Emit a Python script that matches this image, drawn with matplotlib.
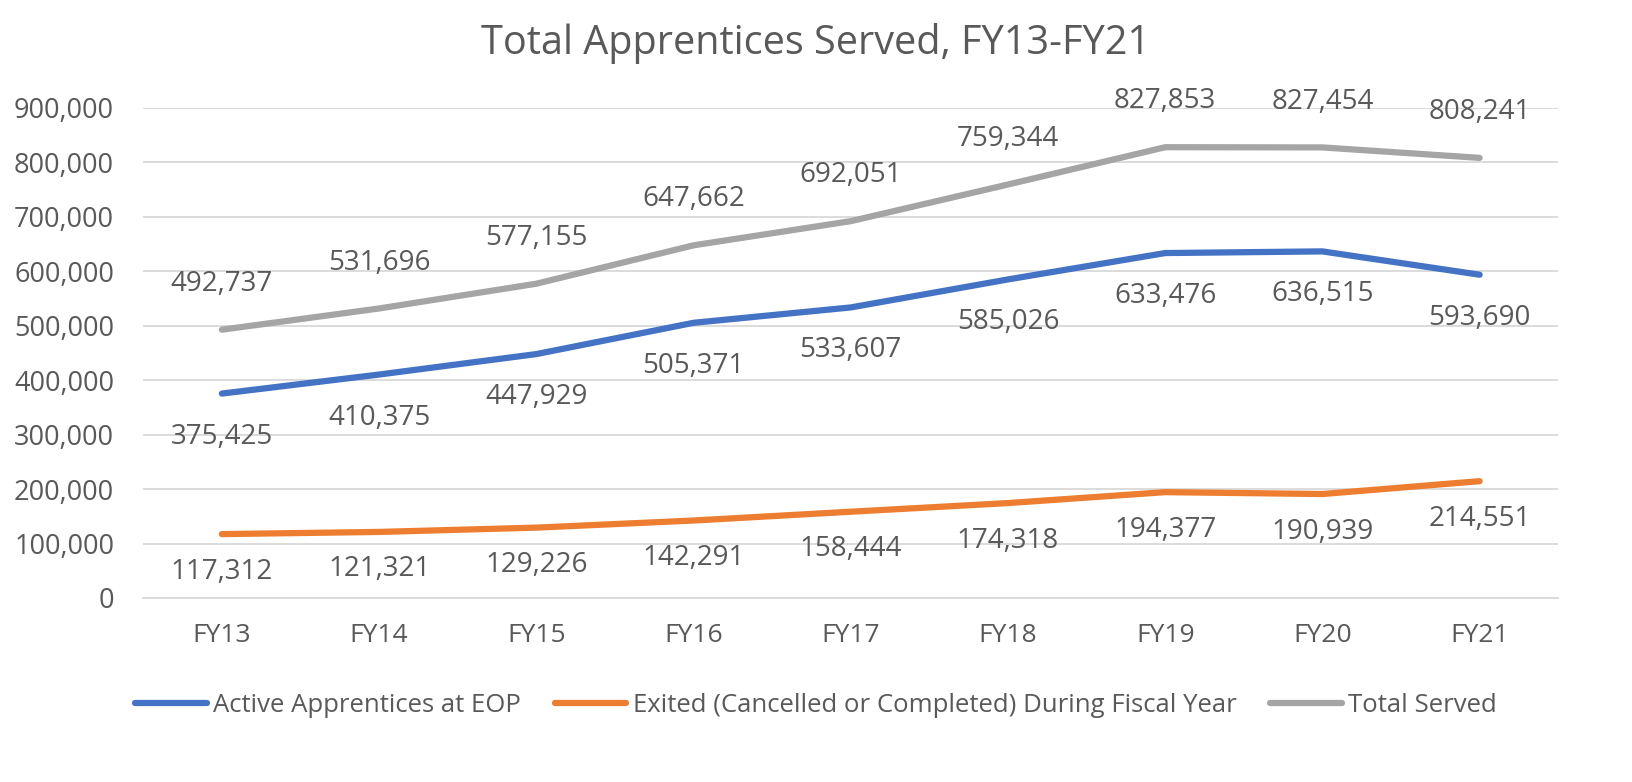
import matplotlib
matplotlib.use("Agg")
import matplotlib.pyplot as plt
from matplotlib.ticker import FuncFormatter

categories = ["FY13", "FY14", "FY15", "FY16", "FY17", "FY18", "FY19", "FY20", "FY21"]
active = [375425, 410375, 447929, 505371, 533607, 585026, 633476, 636515, 593690]
exited = [117312, 121321, 129226, 142291, 158444, 174318, 194377, 190939, 214551]
total = [492737, 531696, 577155, 647662, 692051, 759344, 827853, 827454, 808241]

plt.rcParams['font.family'] = ['Open Sans', 'DejaVu Sans']
txt = '#595959'

fig = plt.figure(figsize=(16.32, 7.82), dpi=100)
ax = fig.add_axes([0.0878, 0.2353, 0.867, 0.6267])

x = list(range(len(categories)))
lw = 4.5
l1, = ax.plot(x, active, color='#4472C4', lw=lw, solid_capstyle='round', label='Active Apprentices at EOP', zorder=3)
l2, = ax.plot(x, exited, color='#ED7D31', lw=lw, solid_capstyle='round', label='Exited (Cancelled or Completed) During Fiscal Year', zorder=3)
l3, = ax.plot(x, total, color='#A5A5A5', lw=lw, solid_capstyle='round', label='Total Served', zorder=3)

dfs = 20
for i in x:
    ax.annotate(f"{total[i]:,}", (i, total[i]), xytext=(0, 33), textcoords='offset points',
                ha='center', va='center', fontsize=dfs, color=txt)
    ax.annotate(f"{active[i]:,}", (i, active[i]), xytext=(0, -31), textcoords='offset points',
                ha='center', va='center', fontsize=dfs, color=txt)
    ax.annotate(f"{exited[i]:,}", (i, exited[i]), xytext=(0, -27), textcoords='offset points',
                ha='center', va='center', fontsize=dfs, color=txt)

ax.set_xlim(-0.5, len(categories) - 0.5)
ax.set_ylim(0, 900000)
ax.set_yticks(range(0, 900001, 100000))
ax.yaxis.set_major_formatter(FuncFormatter(lambda v, p: f"{int(v):,}"))
ax.set_xticks(x)
ax.set_xticklabels(categories)
ax.tick_params(axis='both', length=0, colors=txt)
ax.tick_params(axis='y', labelsize=19.5, pad=21)
ax.tick_params(axis='x', labelsize=19, pad=18)
ax.grid(axis='y', color='#D9D9D9', lw=1.3)
ax.set_axisbelow(True)
for s in ['top', 'right', 'left']:
    ax.spines[s].set_visible(False)
ax.spines['bottom'].set_color('#D9D9D9')
ax.spines['bottom'].set_linewidth(1.3)

fig.text(0.5, 0.945, "Total Apprentices Served, FY13-FY21", ha='center', va='center',
         fontsize=28.5, color=txt)

fig.legend(handles=[l1, l2, l3], loc='center', bbox_to_anchor=(0.5, 0.098), ncol=3,
           frameon=False, fontsize=18.5, labelcolor=txt, handlelength=2.8,
           columnspacing=1.3, handletextpad=0.25)

fig.savefig("out.png", dpi=100, facecolor='white')
